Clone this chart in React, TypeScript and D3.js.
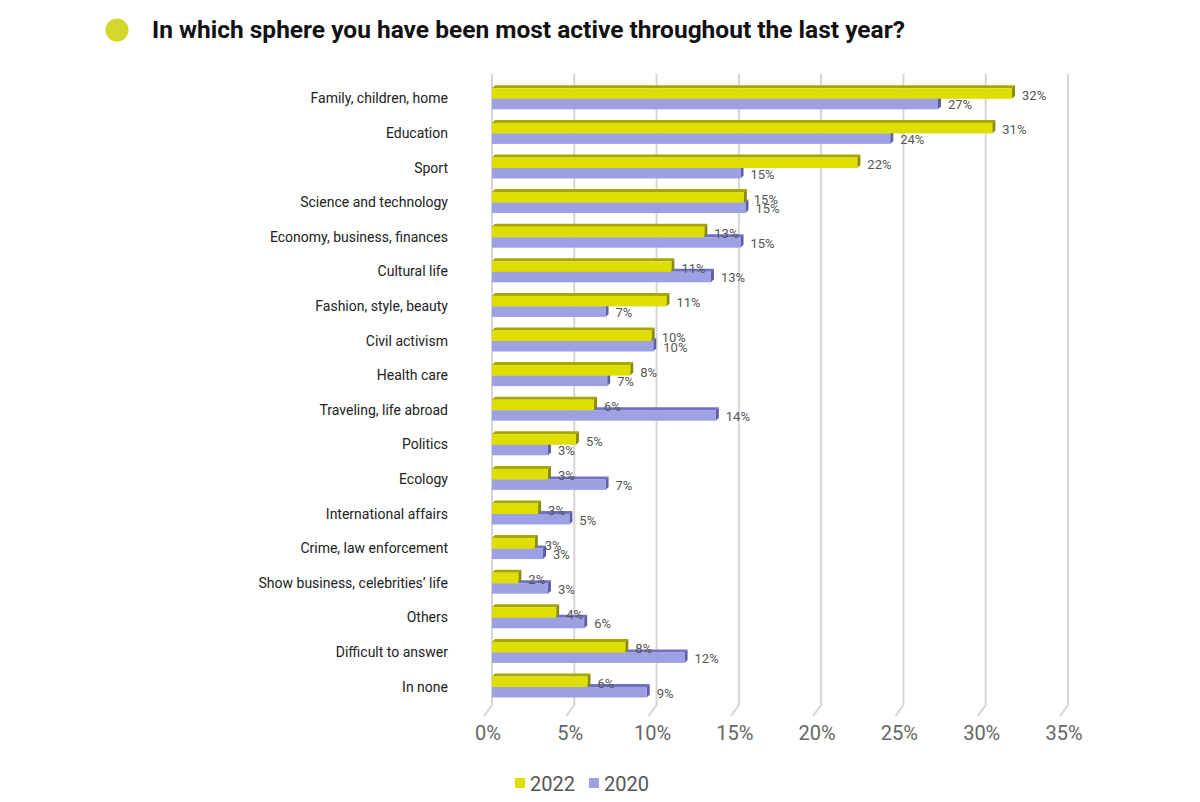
import React, { useEffect, useRef } from "react";
import * as d3 from "d3";

const categories = [
  "Family, children, home",
  "Education",
  "Sport",
  "Science and technology",
  "Economy, business, finances",
  "Cultural life",
  "Fashion, style, beauty",
  "Civil activism",
  "Health care",
  "Traveling, life abroad",
  "Politics",
  "Ecology",
  "International affairs",
  "Crime, law enforcement",
  "Show business, celebrities\u2019 life",
  "Others",
  "Difficult to answer",
  "In none",
];

// bar lengths as drawn (percent)
const values2022 = [31.6, 30.4, 22.2, 15.3, 12.9, 10.9, 10.6, 9.7, 8.4, 6.2, 5.1, 3.4, 2.8, 2.6, 1.6, 3.9, 8.1, 5.8];
const values2020 = [27.1, 24.2, 15.1, 15.4, 15.1, 13.3, 6.9, 9.8, 7.0, 13.6, 3.4, 6.9, 4.7, 3.1, 3.4, 5.6, 11.7, 9.4];
// labels as printed
const labels2022 = ["32%", "31%", "22%", "15%", "13%", "11%", "11%", "10%", "8%", "6%", "5%", "3%", "3%", "3%", "2%", "4%", "8%", "6%"];
const labels2020 = ["27%", "24%", "15%", "15%", "15%", "13%", "7%", "10%", "7%", "14%", "3%", "7%", "5%", "3%", "3%", "6%", "12%", "9%"];

const ticks = [0, 5, 10, 15, 20, 25, 30, 35];
const seriesNames = ["2022", "2020"];

const colors = {
  y: { front: "#dede00", top: "#a6a600", side: "#8a8a00" },
  b: { front: "#9ea0e4", top: "#6f72c2", side: "#5b5da8" },
};

const App: React.FC = () => {
  const ref = useRef<SVGSVGElement | null>(null);

  useEffect(() => {
    if (!ref.current) return;
    const svg = d3.select(ref.current);
    svg.selectAll("*").remove();

    const x = d3.scaleLinear().domain([0, 35]).range([492, 1068]);
    const y = d3.scaleBand<string>().domain(categories).range([81, 81 + 34.6 * categories.length]).padding(0);
    const depth = 3;
    const barH = 10.5;

    // title
    svg.append("circle").attr("cx", 117).attr("cy", 30).attr("r", 11.5).attr("fill", "#d3d82c");
    svg
      .append("text")
      .attr("x", 152)
      .attr("y", 38)
      .attr("font-family", "Roboto, sans-serif")
      .attr("font-weight", 700)
      .attr("font-size", 24.5)
      .attr("fill", "#111")
      .text("In which sphere you have been most active throughout the last year?");

    // gridlines with 3D floor
    const grid = svg.append("g");
    ticks.forEach((t) => {
      const gx = x(t);
      grid
        .append("path")
        .attr("d", `M${gx},74 L${gx},705 L${gx - 8},716`)
        .attr("fill", "none")
        .attr("stroke", "#d6d6d6")
        .attr("stroke-width", 2);
      grid
        .append("text")
        .attr("x", gx - 4)
        .attr("y", 740)
        .attr("text-anchor", "middle")
        .attr("font-family", "Roboto, sans-serif")
        .attr("font-size", 20)
        .attr("fill", "#666")
        .text(`${t}%`);
    });

    // bars
    const drawBar = (g: any, y0: number, v: number, c: { front: string; top: string; side: string }) => {
      const x0 = x(0);
      const x1 = x(v);
      g.append("path")
        .attr("d", `M${x0},${y0} L${x0 + depth},${y0 - depth} L${x1 + depth},${y0 - depth} L${x1},${y0} Z`)
        .attr("fill", c.top);
      g.append("path")
        .attr("d", `M${x1},${y0} L${x1 + depth},${y0 - depth} L${x1 + depth},${y0 + barH - depth} L${x1},${y0 + barH} Z`)
        .attr("fill", c.side);
      g.append("rect").attr("x", x0).attr("y", y0).attr("width", x1 - x0).attr("height", barH).attr("fill", c.front);
    };

    const bars = svg.append("g");
    categories.forEach((cat, i) => {
      const c = (y(cat) as number) + y.bandwidth() / 2;
      const row = bars.append("g");
      drawBar(row, c + 0.5, values2020[i], colors.b);
      drawBar(row, c - barH + 0.5, values2022[i], colors.y);
    });

    // value labels
    const lab = svg.append("g").attr("font-family", "Roboto, sans-serif").attr("font-size", 13).attr("fill", "#555");
    categories.forEach((cat, i) => {
      const c = (y(cat) as number) + y.bandwidth() / 2;
      lab.append("text").attr("x", x(values2022[i]) + 10).attr("y", c + 1.5).text(labels2022[i]);
      lab.append("text").attr("x", x(values2020[i]) + 10).attr("y", c + 11).text(labels2020[i]);
    });

    // category labels
    const catG = svg.append("g").attr("font-family", "Roboto, sans-serif").attr("font-size", 14).attr("fill", "#222");
    categories.forEach((cat) => {
      const c = (y(cat) as number) + y.bandwidth() / 2;
      catG.append("text").attr("x", 448).attr("y", c + 5).attr("text-anchor", "end").text(cat);
    });

    // legend
    const leg = svg.append("g").attr("font-family", "Roboto, sans-serif").attr("font-size", 20).attr("fill", "#555");
    const legX = [515, 589];
    seriesNames.forEach((name, i) => {
      leg
        .append("rect")
        .attr("x", legX[i])
        .attr("y", 778)
        .attr("width", 10)
        .attr("height", 10)
        .attr("fill", i === 0 ? colors.y.front : colors.b.front);
      leg.append("text").attr("x", legX[i] + 15).attr("y", 791).text(name);
    });
  }, []);

  return (
    <svg
      ref={ref}
      width={1200}
      height={802}
      style={{ position: "absolute", left: 0, top: 0, background: "#fff" }}
    />
  );
};

export default App;
